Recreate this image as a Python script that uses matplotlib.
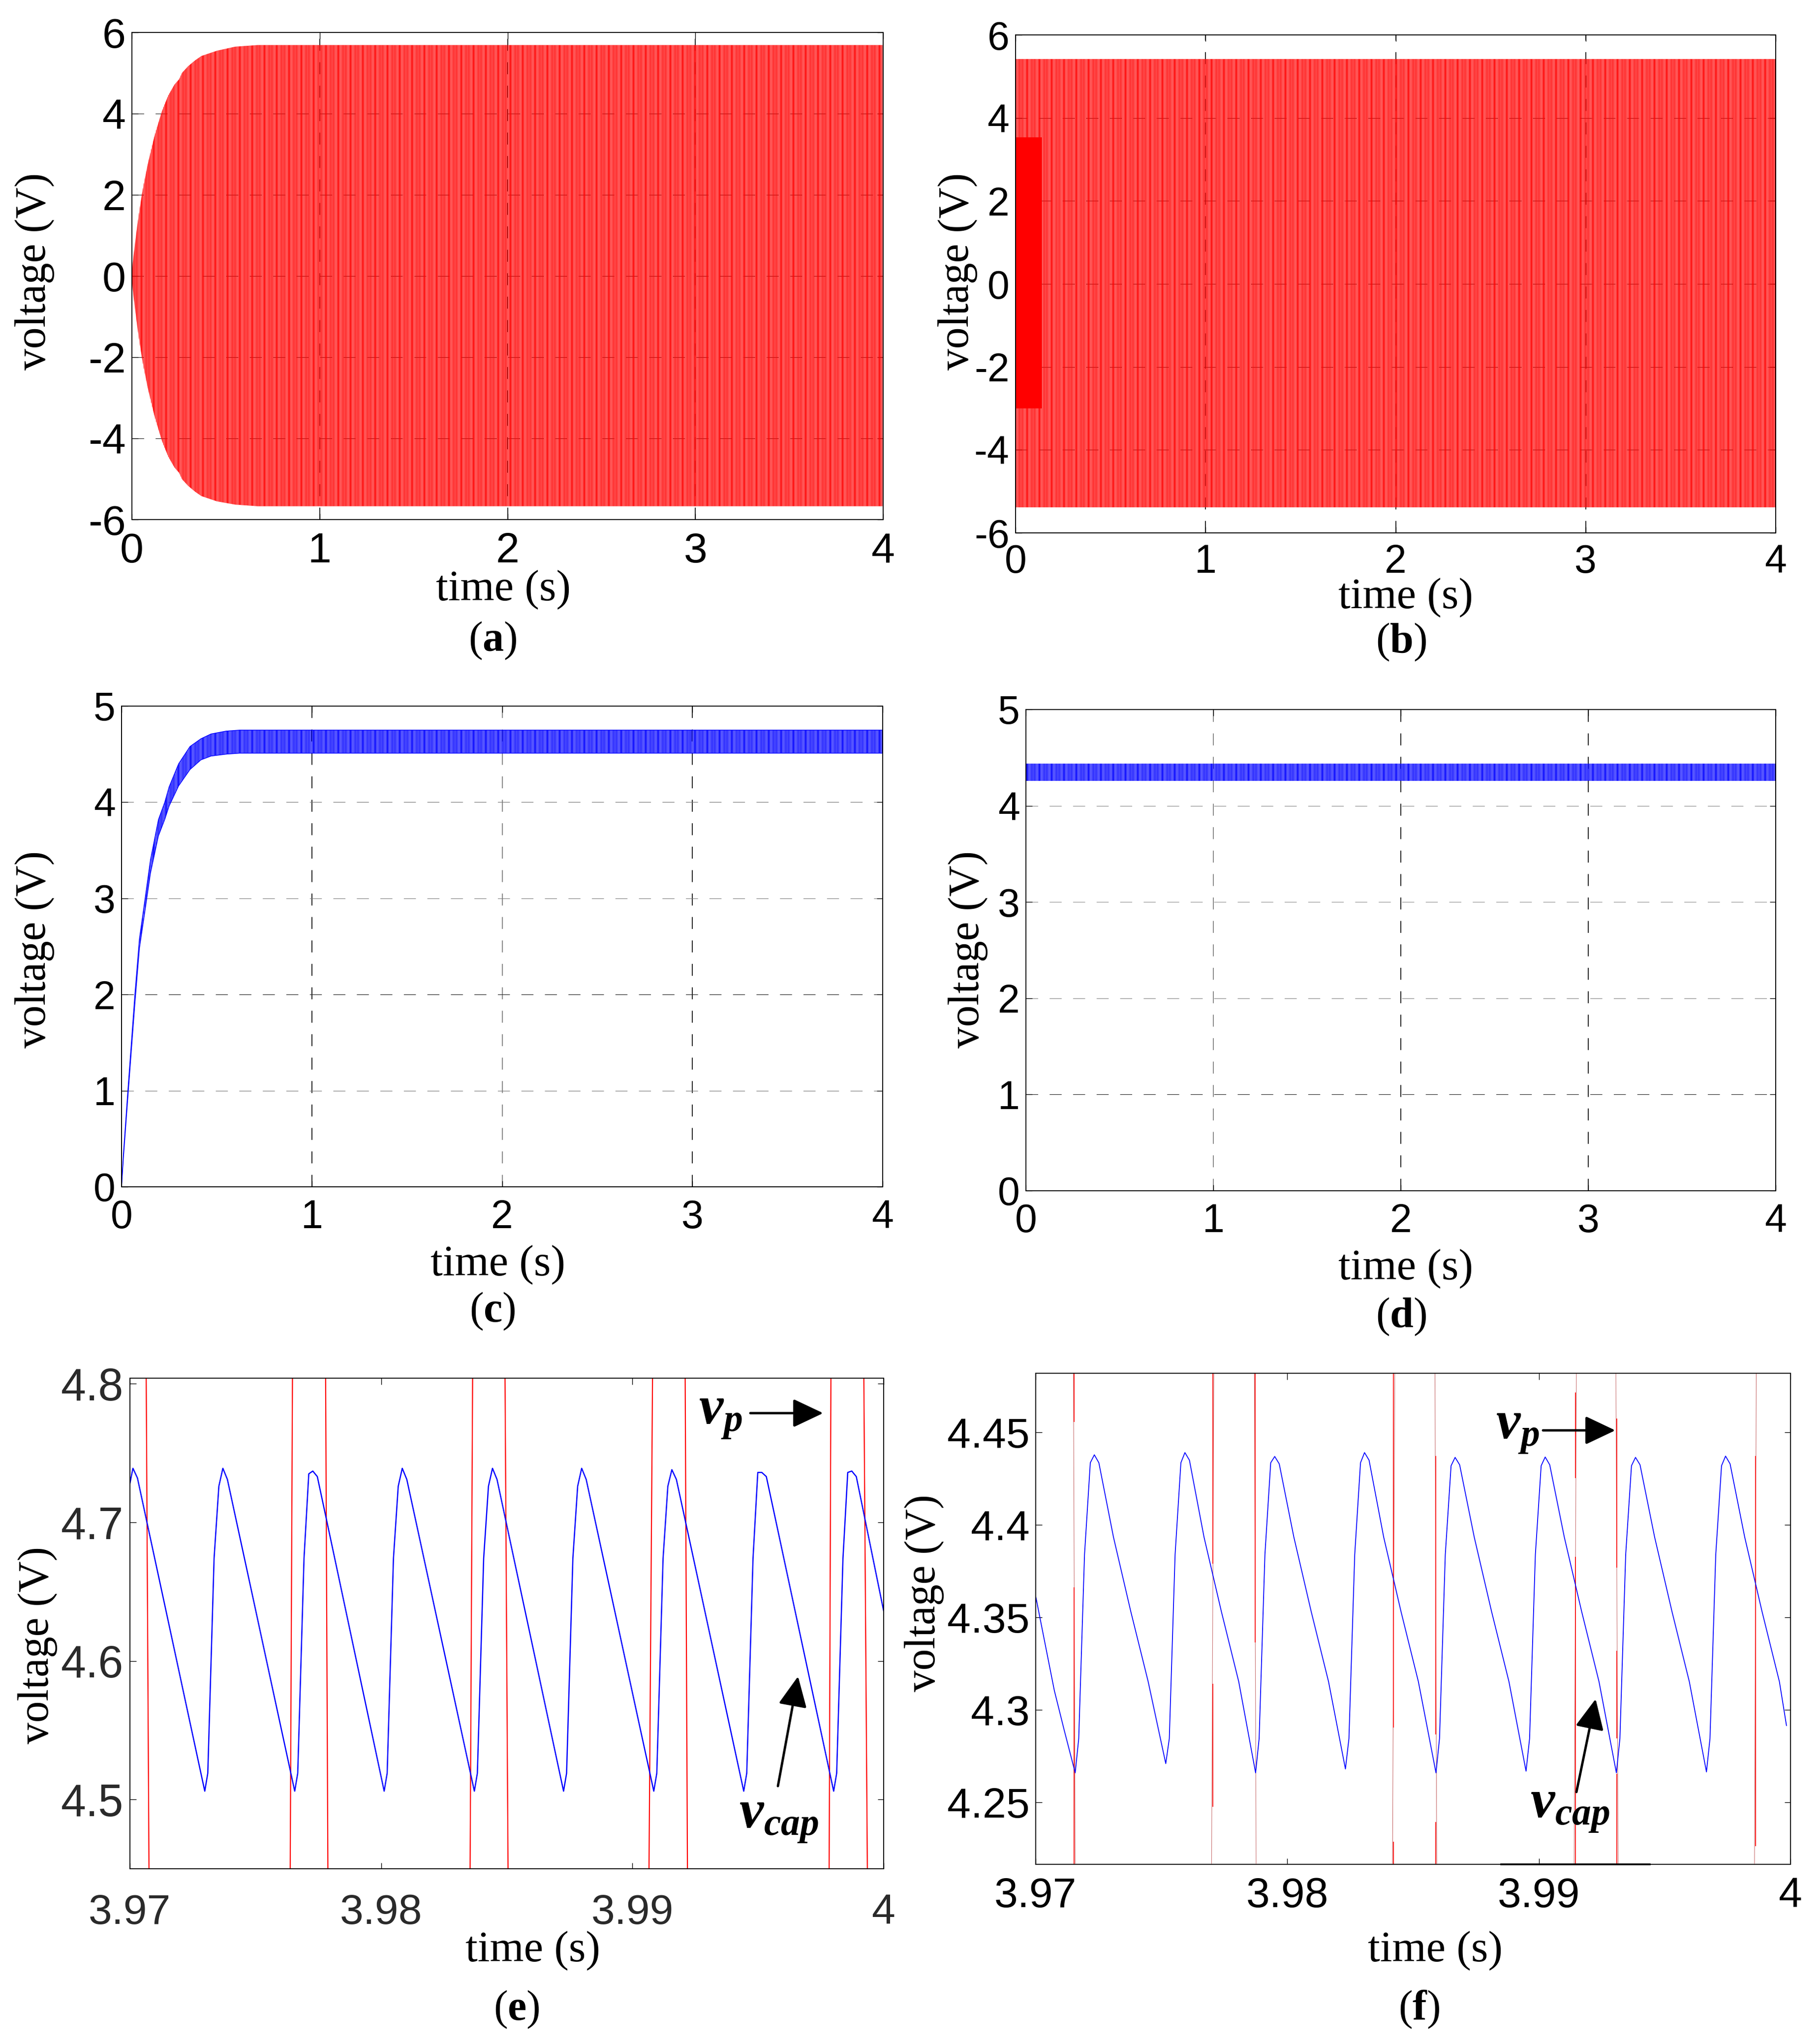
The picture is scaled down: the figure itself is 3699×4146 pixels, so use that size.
import matplotlib
matplotlib.use("Agg")
import matplotlib.pyplot as plt

W, H = 3699, 4146

plt.rcParams["font.family"] = ["Liberation Sans", "DejaVu Sans"]
plt.rcParams["mathtext.fontset"] = "custom"
plt.rcParams["mathtext.rm"] = "Liberation Serif"
plt.rcParams["mathtext.bf"] = "Liberation Serif:bold"
plt.rcParams["mathtext.it"] = "Liberation Serif:italic"
plt.rcParams["mathtext.bfit"] = "Liberation Serif:italic:bold"
plt.rcParams["hatch.linewidth"] = 0.65

# -----------------------------
# envelopes read off panels a-d
# -----------------------------
t_a = [0, 0.005, 0.028, 0.054, 0.084, 0.12, 0.134, 0.16, 0.193, 0.226, 0.252, 0.268, 0.30, 0.336, 0.37, 0.453, 0.55, 0.67, 4]
hi_a = [0, 0.35, 1.22, 2.03, 2.74, 3.44, 3.66, 4.06, 4.44, 4.71, 4.85, 5.01, 5.17, 5.31, 5.42, 5.55, 5.65, 5.69, 5.69]
lo_a = [0, -0.35, -1.22, -2.03, -2.74, -3.44, -3.66, -4.06, -4.44, -4.71, -4.85, -5.01, -5.17, -5.31, -5.42, -5.55, -5.63, -5.67, -5.67]

t_b = [0, 4]
hi_b = [5.42, 5.42]
lo_b = [-5.38, -5.38]
t_burst = [0, 0.14]
hi_burst = [3.53, 3.53]
lo_burst = [-3.0, -3.0]

t_c = [0, 0.01, 0.033, 0.07, 0.094, 0.124, 0.152, 0.194, 0.227, 0.25, 0.30, 0.36, 0.417, 0.47, 0.55, 0.62, 4]
hi_c = [0, 0.35, 1.0, 2.0, 2.58, 3.0, 3.40, 3.82, 4.0, 4.16, 4.4, 4.58, 4.66, 4.71, 4.74, 4.75, 4.75]
lo_c = [0, 0.30, 0.92, 1.9, 2.48, 2.88, 3.26, 3.65, 3.82, 3.96, 4.17, 4.34, 4.44, 4.48, 4.50, 4.51, 4.51]

t_d = [0, 4]
hi_d = [4.44, 4.44]
lo_d = [4.26, 4.26]

# -----------------------------
# panel e
# -----------------------------
t_e = [3.97, 3.97012, 3.97030,
       3.97298, 3.97310, 3.97335, 3.97354, 3.97370, 3.97388,
       3.97656, 3.97668, 3.97693, 3.97712, 3.97728, 3.97746,
       3.98012, 3.98024, 3.98049, 3.98068, 3.98084, 3.98102,
       3.98371, 3.98383, 3.98408, 3.98427, 3.98443, 3.98461,
       3.98726, 3.98738, 3.98763, 3.98782, 3.98798, 3.98816,
       3.99085, 3.99097, 3.99122, 3.99141, 3.99157, 3.99175,
       3.99443, 3.99455, 3.99480, 3.99499, 3.99515, 3.99533,
       3.99801, 3.99813, 3.99838, 3.99857, 3.99873, 3.99891,
       4.0]
v_e = [4.728, 4.739, 4.732,
       4.506, 4.519, 4.674, 4.726, 4.739, 4.731,
       4.506, 4.519, 4.674, 4.735, 4.737, 4.733,
       4.506, 4.519, 4.674, 4.726, 4.739, 4.731,
       4.506, 4.519, 4.674, 4.726, 4.739, 4.731,
       4.506, 4.519, 4.674, 4.726, 4.739, 4.731,
       4.506, 4.519, 4.674, 4.726, 4.738, 4.731,
       4.506, 4.519, 4.674, 4.736, 4.736, 4.733,
       4.506, 4.519, 4.674, 4.736, 4.737, 4.733,
       4.636]
red_top_e = [3.97065, 3.97647, 3.97779, 3.98364, 3.98493, 3.99080, 3.99210, 3.99790, 3.99921]
red_bot_e = [3.97076, 3.97638, 3.97788, 3.98354, 3.98505, 3.99066, 3.99219, 3.99783, 3.99935]

# -----------------------------
# panel f
# -----------------------------
t_f = [3.97, 3.97074, 3.97113,
       3.97157, 3.97171, 3.97194, 3.97217, 3.97233, 3.97251, 3.97309, 3.97378, 3.97447,
       3.97517, 3.97531, 3.97554, 3.97577, 3.97593, 3.97611, 3.97669, 3.97738, 3.97807,
       3.97874, 3.97888, 3.97911, 3.97934, 3.97950, 3.97968, 3.98026, 3.98095, 3.98164,
       3.98231, 3.98245, 3.98268, 3.98291, 3.98307, 3.98325, 3.98383, 3.98452, 3.98521,
       3.98591, 3.98605, 3.98628, 3.98651, 3.98667, 3.98685, 3.98743, 3.98812, 3.98881,
       3.98949, 3.98963, 3.98986, 3.99009, 3.99025, 3.99043, 3.99101, 3.99170, 3.99239,
       3.99308, 3.99322, 3.99345, 3.99368, 3.99384, 3.99402, 3.99460, 3.99529, 3.99598,
       3.99666, 3.99680, 3.99703, 3.99726, 3.99742, 3.99760, 3.99818, 3.99887, 3.99956,
       3.99984]
v_f = [4.3614, 4.3104, 4.2891,
       4.2659, 4.2844, 4.3839, 4.4336, 4.4379, 4.4336, 4.3934, 4.3531, 4.3152,
       4.2709, 4.2844, 4.3839, 4.4336, 4.4391, 4.4350, 4.3934, 4.3531, 4.3152,
       4.2659, 4.2844, 4.3839, 4.4336, 4.4370, 4.4330, 4.3934, 4.3531, 4.3152,
       4.2680, 4.2844, 4.3839, 4.4336, 4.4391, 4.4350, 4.3934, 4.3531, 4.3152,
       4.2659, 4.2844, 4.3839, 4.4320, 4.4365, 4.4325, 4.3934, 4.3531, 4.3152,
       4.2668, 4.2844, 4.3839, 4.4320, 4.4367, 4.4325, 4.3934, 4.3531, 4.3152,
       4.2659, 4.2844, 4.3839, 4.4320, 4.4365, 4.4325, 4.3934, 4.3531, 4.3152,
       4.2664, 4.2844, 4.3839, 4.4320, 4.4372, 4.4330, 4.3934, 4.3531, 4.3152,
       4.2915]
red_top_f = [3.97150, 3.97708, 3.97869, 3.98427, 3.98587, 3.99149, 3.99306, 3.99864]
red_bot_f = [3.97157, 3.97699, 3.97876, 3.98418, 3.98594, 3.99140, 3.99315, 3.99857]
# the red trace in f goes faint in places in the scan, these stretches stay strong
red_spans_f = [
    [(4.4557, 4.482), (4.2164, 4.3661)],
    [(4.3791, 4.482), (4.2476, 4.314)],
    [(4.3365, 4.482)],
    [(4.2903, 4.482), (4.2164, 4.2287)],
    [(4.2867, 4.4372), (4.2164, 4.2393)],
    [(4.4254, 4.4716), (4.2164, 4.3827)],
    [(4.3768, 4.4574), (4.2844, 4.3318), (4.2164, 4.2654)],
    [(4.2263, 4.4372)],
]

# tick labels
xlab_full = ["0", "1", "2", "3", "4"]
xlab_zoom = ["3.97", "3.98", "3.99", "4"]
ylab_ab = ["-6", "-4", "-2", "0", "2", "4", "6"]
ylab_cd = ["0", "1", "2", "3", "4", "5"]
ylab_e = ["4.5", "4.6", "4.7", "4.8"]
ylab_f = ["4.25", "4.3", "4.35", "4.4", "4.45"]


def make_axes(left, right, top, bottom):
    return fig.add_axes([left / W, 1 - bottom / H, (right - left) / W, (bottom - top) / H])


def style(ax, xticks, xlabels, yticks, ylabels, xlim, ylim, xpad, ypad=9, size=58, ysize=None, color="black"):
    ax.set_xlim(xlim)
    ax.set_ylim(ylim)
    ax.set_xticks(xticks, xlabels)
    ax.set_yticks(yticks, ylabels)
    ax.tick_params(axis="x", direction="in", top=True, length=9, width=1, pad=xpad,
                   labelsize=size, labelcolor=color)
    ax.tick_params(axis="y", direction="in", right=True, length=9, width=1, pad=ypad,
                   labelsize=ysize or size, labelcolor=color)
    for s in ax.spines.values():
        s.set_linewidth(1.4)


def grid(ax, xcolors, ycolors):
    ax.set_axisbelow(True)
    ax.xaxis.grid(True, linestyle=(0, (12.5, 12)), linewidth=1.4)
    ax.yaxis.grid(True, linestyle=(0, (22, 21)), linewidth=0.8)
    for line, c in zip(ax.get_xgridlines()[1:], xcolors):
        line.set_color(c)
    for line, c in zip(ax.get_ygridlines(), ycolors):
        line.set_color(c)
    # ends of the range sit on the frame
    ax.get_xgridlines()[0].set_visible(False)
    ax.get_xgridlines()[-1].set_visible(False)
    ax.get_ygridlines()[0].set_visible(False)
    ax.get_ygridlines()[-1].set_visible(False)


def band(ax, t, hi, lo, color):
    # two close hatch pitches beat against each other like the trace does in the scan
    ax.fill_between(t, lo, hi, facecolor="none", edgecolor=color, linewidth=0, hatch="|" * 8)
    ax.fill_between(t, lo, hi, facecolor="none", edgecolor=color, linewidth=0, hatch="|" * 10)


def labels(ylab, xlab, cap, caption):
    fig.text(ylab[0] / W, 1 - ylab[1] / H, "voltage (V)", rotation=90, ha="center", va="center",
             family="Liberation Serif", fontsize=63)
    fig.text(xlab[0] / W, 1 - (xlab[1] + 8) / H, "time (s)", ha="center", va="center",
             family="Liberation Serif", fontsize=64)
    fig.text(cap[0] / W, 1 - (cap[1] + 5) / H, caption, ha="center", va="center", fontsize=62)


def arrow(ax, start, end):
    ax.annotate("", xy=(end[0] / W, 1 - end[1] / H), xytext=(start[0] / W, 1 - start[1] / H),
                xycoords="figure fraction", textcoords="figure fraction", annotation_clip=False,
                arrowprops=dict(arrowstyle="-|>,head_length=38,head_width=18", color="black",
                                lw=3.5, shrinkA=0, shrinkB=0, mutation_scale=1))


fig = plt.figure(figsize=(W / 100, H / 100), dpi=100)

# (a)
ax = make_axes(268, 1795, 66, 1056)
style(ax, range(5), xlab_full, range(-6, 7, 2), ylab_ab, (0, 4), (-6, 6), xpad=18, size=62)
grid(ax, ["#222222"] * 3, ["#222222"] * 7)
band(ax, t_a, hi_a, lo_a, "#ff0000")
labels((71, 552), (1023, 1191), (1001, 1297), r"$\mathrm{(}\mathbf{a}\mathrm{)}$")

# (b)
ax = make_axes(2064, 3609, 71, 1083)
style(ax, range(5), xlab_full, range(-6, 7, 2), ylab_ab, (0, 4), (-6, 6), xpad=16)
grid(ax, ["#222222"] * 3, ["#222222"] * 7)
band(ax, t_b, hi_b, lo_b, "#ff0000")
ax.fill_between(t_burst, lo_burst, hi_burst, color="#ff0000", linewidth=0)
labels((1947, 552), (2857, 1207), (2848, 1300), r"$\mathrm{(}\mathbf{b}\mathrm{)}$")

# (c)
ax = make_axes(247, 1794, 1435, 2412)
style(ax, range(5), xlab_full, range(6), ylab_cd, (0, 4), (0, 5), xpad=18)
grid(ax, ["#222222", "#888888", "#222222"], ["#777777", "#777777", "#222222", "#777777", "#777777", "#777777"])
band(ax, t_c, hi_c, lo_c, "#0000ff")
ax.plot(t_c, hi_c, color="#0000ff", linewidth=1)
ax.plot(t_c, lo_c, color="#0000ff", linewidth=1)
labels((71, 1929), (1012, 2563), (1001, 2660), r"$\mathrm{(}\mathbf{c}\mathrm{)}$")

# (d)
ax = make_axes(2085, 3609, 1442, 2420)
style(ax, range(5), xlab_full, range(6), ylab_cd, (0, 4), (0, 5), xpad=18)
grid(ax, ["#888888", "#222222", "#222222"], ["#888888", "#222222", "#888888", "#888888", "#888888", "#888888"])
band(ax, t_d, hi_d, lo_d, "#0000ff")
labels((1968, 1929), (2857, 2571), (2848, 2671), r"$\mathrm{(}\mathbf{d}\mathrm{)}$")

# (e)
ax = make_axes(264, 1796, 2801, 3798)
style(ax, [3.97, 3.98, 3.99, 4], xlab_zoom, [4.5, 4.6, 4.7, 4.8], ylab_e, (3.97, 4.0), (4.45, 4.804),
      xpad=36, size=62, ysize=66, color="#2a2a2a")
for top, bot in zip(red_top_e, red_bot_e):
    ax.plot([top, bot], [4.804, 4.45], color="#ff0000", linewidth=1.6)
ax.plot(t_e, v_e, color="#0000ff", linewidth=1.8)
labels((77, 3344), (1083, 3957), (1050, 4079), r"$\mathrm{(}\mathbf{e}\mathrm{)}$")
fig.text(1420 / W, 1 - 2895 / H, r"$\mathbfit{v_p}$", fontsize=80)
fig.text(1502 / W, 1 - 3716 / H, r"$\mathbfit{v_{cap}}$", fontsize=80)
arrow(ax, (1525, 2872), (1673, 2872))
arrow(ax, (1581, 3630), (1622, 3407))

# (f)
ax = make_axes(2105, 3639, 2791, 3789)
style(ax, [3.97, 3.98, 3.99, 4], xlab_zoom, [4.25, 4.3, 4.35, 4.4, 4.45], ylab_f, (3.97, 4.0), (4.2164, 4.482),
      xpad=18, size=62)
for top, bot, spans in zip(red_top_f, red_bot_f, red_spans_f):
    ax.plot([top, bot], [4.482, 4.2164], color="#c87070", linewidth=0.8)
    for low, high in spans:
        ax.vlines((top + bot) / 2, low, high, color="#ff0000", linewidth=1.2)
ax.plot(t_f, v_f, color="#0000ff", linewidth=1.3)
ax.plot([3.9885, 3.9944], [4.2164, 4.2164], color="black", linewidth=2.6, clip_on=False)
labels((1879, 3237), (2917, 3957), (2884, 4079), r"$\mathrm{(}\mathbf{f}\mathrm{)}$")
fig.text(3040 / W, 1 - 2925 / H, r"$\mathbfit{v_p}$", fontsize=80)
fig.text(3110 / W, 1 - 3695 / H, r"$\mathbfit{v_{cap}}$", fontsize=80)
arrow(ax, (3136, 2907), (3283, 2907))
arrow(ax, (3204, 3642), (3243, 3453))

fig.savefig("out.png", dpi=100)
